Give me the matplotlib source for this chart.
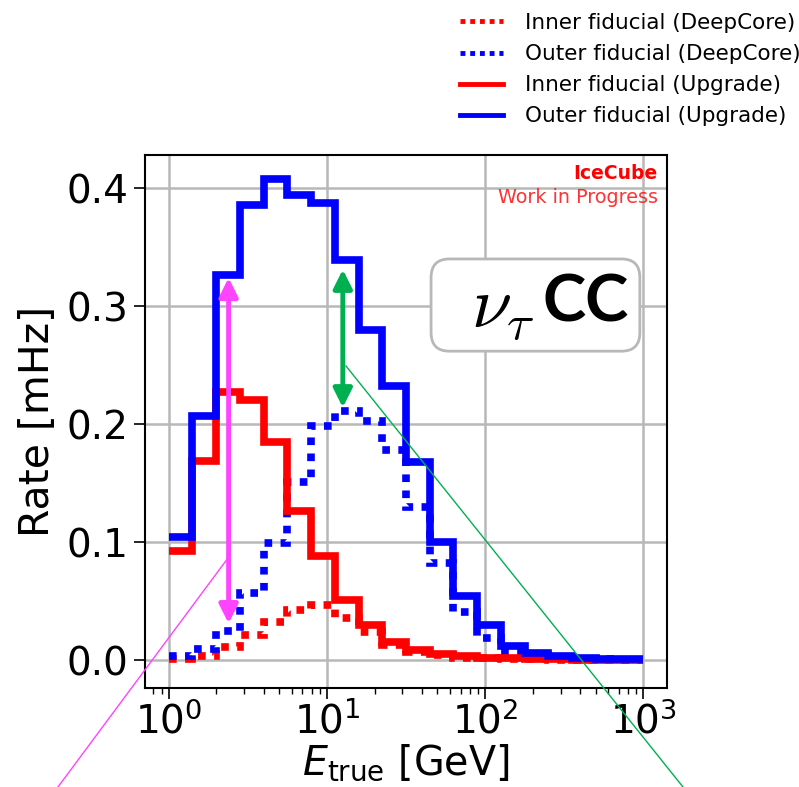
import numpy as np
import matplotlib.pyplot as plt
from matplotlib.lines import Line2D
from matplotlib.patches import FancyBboxPatch

plt.rcParams['mathtext.fontset'] = 'dejavusans'

# 20 log bins between 1 GeV and 1 TeV
edges = np.logspace(0, 3, 21)

inner_deepcore = [0.001, 0.003, 0.011, 0.021, 0.032, 0.042, 0.047, 0.036, 0.024, 0.013,
                  0.007, 0.004, 0.002, 0.0015, 0.001, 0.0006, 0.0004, 0.0003, 0.0002, 0.0001]
outer_deepcore = [0.003, 0.009, 0.025, 0.057, 0.099, 0.151, 0.198, 0.211, 0.203, 0.178,
                  0.130, 0.082, 0.041, 0.019, 0.007, 0.004, 0.002, 0.001, 0.0006, 0.0004]
inner_upgrade = [0.092, 0.169, 0.227, 0.220, 0.185, 0.126, 0.088, 0.051, 0.030, 0.0155,
                 0.0085, 0.005, 0.003, 0.002, 0.0015, 0.001, 0.0006, 0.0004, 0.0003, 0.0002]
outer_upgrade = [0.104, 0.207, 0.326, 0.386, 0.408, 0.394, 0.387, 0.339, 0.280, 0.232,
                 0.168, 0.100, 0.054, 0.030, 0.012, 0.006, 0.0035, 0.002, 0.001, 0.0008]

labels = ["Inner fiducial (DeepCore)", "Outer fiducial (DeepCore)",
          "Inner fiducial (Upgrade)", "Outer fiducial (Upgrade)"]

# arrows: (x, y_top, y_bottom)
magenta_arrow = (2.39, 0.324, 0.031)
green_arrow = (12.6, 0.331, 0.214)

fig = plt.figure(figsize=(7.99, 7.87), dpi=100)
ax = fig.add_axes([0.1815, 0.1258, 0.6533, 0.6772])

dots = (0, (1, 1.1))
lw = 5.5
ax.stairs(inner_deepcore, edges, baseline=None, color='red', lw=lw, linestyle=dots)
ax.stairs(outer_deepcore, edges, baseline=None, color='blue', lw=lw, linestyle=dots)
ax.stairs(inner_upgrade, edges, baseline=None, color='red', lw=lw)
ax.stairs(outer_upgrade, edges, baseline=None, color='blue', lw=lw)

ax.set_xscale('log')
ax.set_xlim(10 ** -0.15, 10 ** 3.15)
ax.set_ylim(-0.0237, 0.428)
ax.set_yticks([0.0, 0.1, 0.2, 0.3, 0.4])
ax.grid(True, which='major', color='#b8b8b8', lw=1.8)
ax.set_axisbelow(True)
ax.tick_params(axis='both', which='major', labelsize=28, length=8, width=1.2, pad=4)
ax.tick_params(axis='x', which='major', pad=2)
ax.tick_params(axis='x', which='minor', length=4, width=1.0)
for s in ax.spines.values():
    s.set_linewidth(1.5)
ax.set_ylabel("Rate [mHz]", fontsize=29.5, labelpad=6)
ax.set_xlabel(r"$E_{\rm true}$ [GeV]", fontsize=28.5, labelpad=1)

for (x, yt, yb), col in [(magenta_arrow, '#ff44ff'), (green_arrow, '#00b050')]:
    ax.annotate("", xy=(x, yt), xytext=(x, yb),
                arrowprops=dict(arrowstyle='<|-|>', color=col, lw=3.5,
                                mutation_scale=28, shrinkA=0, shrinkB=0))

ax.text(0.982, 0.965, "IceCube", transform=ax.transAxes, ha='right', va='center',
        color='red', fontsize=13.5, fontweight='bold')
ax.text(0.982, 0.92, "Work in Progress", transform=ax.transAxes, ha='right', va='center',
        color='red', alpha=0.8, fontsize=13.8)

box = FancyBboxPatch((0.548, 0.632), 0.40, 0.173, transform=ax.transAxes,
                     boxstyle="round,pad=0,rounding_size=0.035",
                     facecolor='white', edgecolor='#b8b8b8', lw=2, zorder=5)
ax.add_patch(box)
ax.text(0.685, 0.712, r"$\nu_\tau$", transform=ax.transAxes, ha='center', va='center',
        fontsize=52, math_fontfamily='cm', zorder=6)
ax.text(0.844, 0.722, "CC", transform=ax.transAxes, ha='center', va='center',
        fontsize=47, fontweight='bold', family='Lato', zorder=6)

# zoom guide lines (figure pixels)
W, H = 799, 787
for (x0, y0, x1, y1), col in [((58, 787, 228, 558), '#ff44ff'),
                              ((346, 366, 683, 787), '#00b050')]:
    fig.add_artist(Line2D([x0 / W, x1 / W], [1 - y0 / H, 1 - y1 / H],
                          transform=fig.transFigure, color=col, lw=1))

handles = [Line2D([], [], color='red', lw=3.5, linestyle=(0, (1, 1))),
           Line2D([], [], color='blue', lw=3.5, linestyle=(0, (1, 1))),
           Line2D([], [], color='red', lw=3.5),
           Line2D([], [], color='blue', lw=3.5)]
fig.legend(handles, labels, loc='upper right', bbox_to_anchor=(1.018, 1.0),
           frameon=False, fontsize=15.5, handletextpad=1.0, labelspacing=0.52,
           handlelength=2.0, borderaxespad=0.2)

fig.savefig("out.png", dpi=100, facecolor='white')
